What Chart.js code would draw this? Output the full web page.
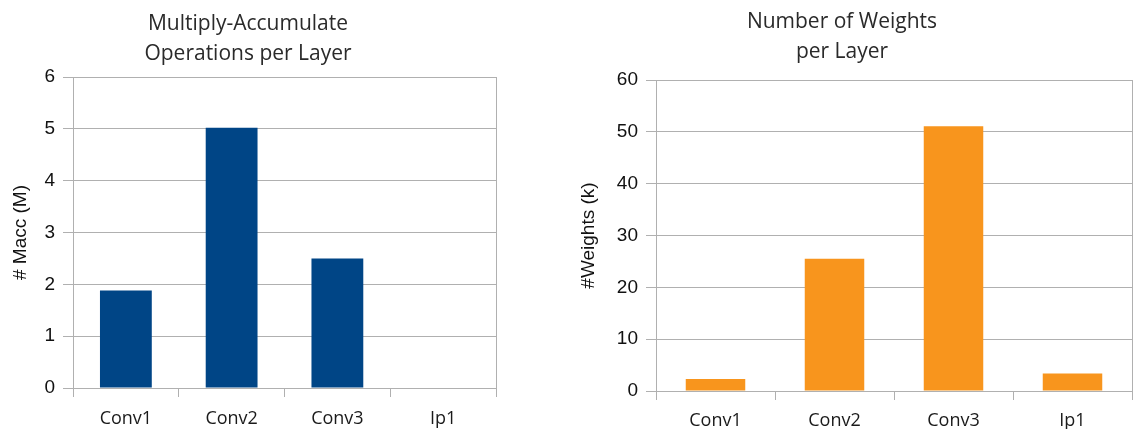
<!DOCTYPE html>
<html><head><meta charset="utf-8">
<script src="https://cdn.jsdelivr.net/npm/chart.js@4/dist/chart.umd.min.js"></script>
<style>
html,body{margin:0;padding:0;background:#fff;width:1135px;height:429px;overflow:hidden;}
.box{position:absolute;top:0;height:429px;}
#b1{left:0;width:497px;}
#b2{left:552px;width:581px;}
</style></head><body>
<div class="box" id="b1"><canvas id="c1" width="497" height="429"></canvas></div>
<div class="box" id="b2"><canvas id="c2" width="581" height="429"></canvas></div>
<script>
const categories = ['Conv1', 'Conv2', 'Conv3', 'Ip1'];
const maccValues = [1.88, 5.02, 2.50, 0];
const weightValues = [2.3, 25.5, 51.1, 3.4];
const maccTicks = [0, 1, 2, 3, 4, 5, 6];
const weightTicks = [0, 10, 20, 30, 40, 50, 60];
const maccTitle = ['Multiply-Accumulate', 'Operations per Layer'];
const weightTitle = ['Number of Weights', 'per Layer'];
const maccAxisTitle = '# Macc (M)';
const weightAxisTitle = '#Weights (k)';

const GRID = '#b0b0b0';
Chart.defaults.animation = false;

function makeChart(id, values, ticks, color, title, yTitle, cfg) {
  return new Chart(document.getElementById(id), {
    type: 'bar',
    data: {
      labels: categories,
      datasets: [{ data: values, backgroundColor: color, borderWidth: 0,
        categoryPercentage: 1.0, barPercentage: cfg.barPct }]
    },
    options: {
      responsive: false,
      animation: false,
      layout: { padding: { left: 0, right: 1, top: 0, bottom: 0 } },
      plugins: {
        legend: { display: false },
        tooltip: { enabled: false },
        title: {
          display: true, text: title, color: '#2a2a2a',
          font: { family: '"Open Sans", sans-serif', size: 21, weight: 'normal', lineHeight: 30 / 21 },
          padding: cfg.titlePad
        }
      },
      scales: {
        x: {
          offset: true,
          grid: {
            offset: true,
            color: (c) => c.type === 'tick' ? 'rgba(0,0,0,0)' : GRID,
            tickColor: GRID, tickLength: 9, lineWidth: 1
          },
          border: { display: true, color: GRID, width: 1 },
          ticks: { color: '#1a1a1a', padding: cfg.xPad,
            font: { family: '"Open Sans", sans-serif', size: 18 } },
          afterFit: (s) => { s.height = cfg.xHeight; }
        },
        y: {
          min: ticks[0], max: ticks[ticks.length - 1],
          afterBuildTicks: (s) => { s.ticks = ticks.map(v => ({ value: v })); },
          grid: { color: GRID, tickColor: GRID, tickLength: 10, lineWidth: 1 },
          border: { display: true, color: GRID, width: 1 },
          ticks: { color: '#111', padding: 8,
            font: { family: '"Liberation Sans", Arial, sans-serif', size: 19 } },
          title: { display: true, text: yTitle, color: '#111',
            font: { family: '"Liberation Sans", Arial, sans-serif', size: 19 },
            padding: { top: cfg.yTitlePad, bottom: 0 } },
          afterFit: (s) => { s.width = cfg.yWidth; }
        }
      }
    }
  });
}

makeChart('c1', maccValues, maccTicks, '#004586', maccTitle, maccAxisTitle,
  { barPct: 0.49, titlePad: { top: 9, bottom: 8 }, xHeight: 41, xPad: 11, yWidth: 73, yTitlePad: 9 });
makeChart('c2', weightValues, weightTicks, '#f8951d', weightTitle, weightAxisTitle,
  { barPct: 0.5, titlePad: { top: 7, bottom: 13 }, xHeight: 38, xPad: 10, yWidth: 104, yTitlePad: 25 });
</script>
</body></html>
